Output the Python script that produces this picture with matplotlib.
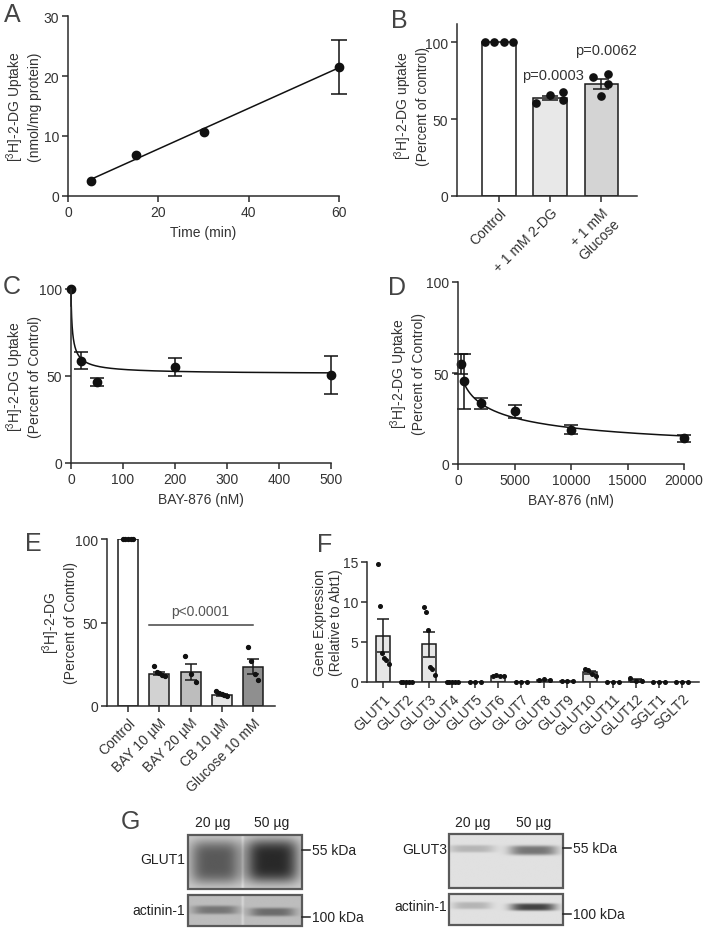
import numpy as np
import matplotlib.pyplot as plt
from matplotlib.patches import Rectangle

plt.rcParams['font.family'] = ['Liberation Sans', 'DejaVu Sans']
plt.rcParams['mathtext.fontset'] = 'custom'
plt.rcParams['mathtext.rm'] = 'Liberation Sans'
plt.rcParams['mathtext.it'] = 'Liberation Sans:italic'
plt.rcParams['mathtext.bf'] = 'Liberation Sans:bold'

# ---- data ----
# A: time course
time_min = [5, 15, 30, 60]
uptake_nmol = [2.5, 6.8, 10.7, 21.5]
uptake_sem = [0, 0, 0, 4.5]

# B: competition
b_groups = ['Control', '+ 1 mM 2-DG', '+ 1 mM\nGlucose']
b_means = [100, 63.8, 73.2]
b_sem = [0, 1.6, 3.2]
b_points = [[100, 100, 100, 100],
            [60.7, 65.9, 62.2, 67.5],
            [77.5, 79.7, 72.7, 64.8]]
b_pvals = ['', 'p=0.0003', 'p=0.0062']

# C: BAY-876 low range
c_dose = [0, 20, 50, 200, 500]
c_uptake = [100, 58.7, 46.5, 55.2, 50.4]
c_sem = [10, 4.9, 2.4, 5.3, 11]
c_fit = dict(top=100, bottom=51, ic50=3.0, hill=0.8)

# D: BAY-876 high range
d_dose = [250, 500, 2000, 5000, 10000, 20000]
d_uptake = [54.9, 45.4, 33.3, 28.9, 18.9, 14.1]
d_sem = [5.5, 15, 3, 3.4, 2.5, 2]
d_fit = dict(top=62, bottom=3, ic50=2200, hill=0.6)

# E: inhibitors
e_groups = ['Control', 'BAY 10 \u00b5M', 'BAY 20 \u00b5M', 'CB 10 \u00b5M', 'Glucose 10 mM']
e_means = [100, 19.4, 20.5, 6.7, 23.4]
e_sem = [0, 1.1, 4.8, 0.7, 4.5]
e_points = [[100, 100, 100, 100, 100],
            [24, 20.5, 19.5, 18.5, 18],
            [30, 19, 14.4],
            [9, 8, 7.2, 6.4, 6],
            [35.4, 27, 19, 15.6]]
e_colors = ['white', '#d2d2d2', '#bdbdbd', '#e6e6e6', '#8f8f8f']

# F: transporter expression
f_genes = ['GLUT1', 'GLUT2', 'GLUT3', 'GLUT4', 'GLUT5', 'GLUT6', 'GLUT7',
           'GLUT8', 'GLUT9', 'GLUT10', 'GLUT11', 'GLUT12', 'SGLT1', 'SGLT2']
f_means = [5.8, 0, 4.7, 0, 0, 0.8, 0, 0.3, 0.15, 1.2, 0.05, 0.2, 0, 0]
f_sem = [2.1, 0, 1.6, 0, 0, 0.05, 0, 0.03, 0.02, 0.2, 0.02, 0.15, 0, 0]
f_points = [[14.8, 9.5, 3.6, 3.0, 2.8, 2.2],
            [0, 0, 0, 0, 0],
            [9.4, 8.75, 6.5, 1.9, 1.6, 0.9],
            [0, 0, 0, 0, 0],
            [0, 0, 0],
            [0.8, 0.9, 0.8, 0.7],
            [0, 0, 0],
            [0.3, 0.35, 0.3],
            [0.15, 0.15, 0.15],
            [1.6, 1.5, 1.0, 0.8],
            [0.05, 0.05, 0.05],
            [0.5, 0.1, 0.1],
            [0, 0, 0],
            [0, 0, 0]]

# G: western blot lanes
g_lanes = ['20 \u00b5g', '50 \u00b5g']

# ---- layout ----
W, H = 708, 929
fig = plt.figure(figsize=(W / 100, H / 100), dpi=100)
TXT = '#333333'


def add_ax(left, top, right, bottom):
    return fig.add_axes([left / W, 1 - bottom / H, (right - left) / W, (bottom - top) / H])


def prism(ax):
    for s in ['top', 'right']:
        ax.spines[s].set_visible(False)
    for s in ['left', 'bottom']:
        ax.spines[s].set_linewidth(1.1)
        ax.spines[s].set_color('#2b2b2b')
    ax.tick_params(direction='out', length=4.5, width=1.1, color='#2b2b2b',
                   labelsize=10, labelcolor=TXT, pad=2)
    ax.patch.set_alpha(0)


def spread(n, half):
    if n == 1:
        return np.zeros(1)
    return np.linspace(-half, half, n)


def hill(x, p):
    x = np.asarray(x, float)
    return p['bottom'] + (p['top'] - p['bottom']) / (1 + (x / p['ic50']) ** p['hill'])


over = fig.add_axes([0, 0, 1, 1])
over.set_xlim(0, W)
over.set_ylim(H, 0)
over.axis('off')

for lab, x, y in [('A', 12, 15), ('B', 399, 21), ('C', 12, 287), ('D', 397, 288),
                  ('E', 33, 544), ('F', 325, 545), ('G', 130, 822)]:
    over.text(x, y, lab, fontsize=18, color='#444444', ha='center', va='center')

ylab_kw = dict(rotation=90, ha='center', va='center', fontsize=10, color=TXT,
               multialignment='center')
over.text(23, 107, '[$^3$H]-2-DG Uptake\n(nmol/mg protein)', **ylab_kw)
over.text(411, 106, '[$^3$H]-2-DG uptake\n(Percent of control)', **ylab_kw)
over.text(23, 377, '[$^3$H]-2-DG Uptake\n(Percent of Control)', **ylab_kw)
over.text(407, 374, '[$^3$H]-2-DG Uptake\n(Percent of Control)', **ylab_kw)
over.text(59, 623, '[$^3$H]-2-DG\n(Percent of Control)', **ylab_kw)
over.text(328, 623, 'Gene Expression\n(Relative to Abt1)', **ylab_kw)

# ---- A ----
axA = add_ax(68, 17, 339, 197)
prism(axA)
fit = np.polyfit(time_min, uptake_nmol, 1)
xs = np.array([time_min[0], time_min[-1]])
axA.plot(xs, np.polyval(fit, xs), color='#111111', lw=1.1)
axA.plot(time_min, uptake_nmol, 'o', ms=6, color='#111111', clip_on=False)
a_err = [i for i, s in enumerate(uptake_sem) if s > 0]
axA.errorbar(np.array(time_min)[a_err], np.array(uptake_nmol)[a_err],
             yerr=np.array(uptake_sem)[a_err], fmt='none', ecolor='#111111',
             capsize=6, elinewidth=1.1, capthick=1.1, clip_on=False)
axA.set_xlim(0, 60)
axA.set_ylim(0, 30)
axA.set_xticks([0, 20, 40, 60])
axA.set_yticks([0, 10, 20, 30])
axA.set_xlabel('Time (min)', fontsize=10, color=TXT, labelpad=4)

# ---- B ----
axB = add_ax(457, 25, 637, 197)
prism(axB)
bx = np.arange(len(b_groups))
axB.bar(bx, b_means, width=0.65, color=['white', '#e8e8e8', '#d4d4d4'],
        edgecolor='#1a1a1a', linewidth=1.1, zorder=1)
axB.errorbar(bx[1:], b_means[1:], yerr=b_sem[1:], fmt='none', ecolor='#1a1a1a',
             capsize=6, elinewidth=1.1, capthick=1.1, zorder=3)
b_jit = [[-0.27, -0.09, 0.09, 0.27], [-0.28, -0.01, 0.25, 0.25], [-0.16, 0.13, 0.13, 0.0]]
for i, pts in enumerate(b_points):
    axB.plot(bx[i] + np.array(b_jit[i]), pts, 'o', ms=5.2, color='#111111', zorder=4,
             clip_on=False)
b_ptxt = [(0, 0), (1.05, 79), (2.1, 95)]
for i, p in enumerate(b_pvals):
    if p:
        axB.text(b_ptxt[i][0], b_ptxt[i][1], p, ha='center', va='center',
                 fontsize=10.5, color=TXT)
axB.set_xlim(-0.82, 2.7)
axB.set_ylim(0, 112)
axB.set_yticks([0, 50, 100])
axB.set_xticks(bx)
axB.set_xticklabels(b_groups, rotation=45, ha='right', rotation_mode='anchor',
                    fontsize=10)

# ---- C ----
axC = add_ax(71, 290, 331, 464)
prism(axC)
cx = np.concatenate([[0], np.geomspace(0.05, 500, 400)])
axC.plot(cx, hill(cx, c_fit), color='#111111', lw=1.1)
axC.errorbar(c_dose[1:], c_uptake[1:], yerr=c_sem[1:], fmt='o', ms=6, color='#111111',
             capsize=5, elinewidth=1.1, capthick=1.1, clip_on=False)
axC.plot([c_dose[0]], [c_uptake[0]], 'o', ms=6, color='#111111', clip_on=False)
axC.plot([c_dose[0], c_dose[0]], [c_uptake[0] - c_sem[0], c_uptake[0]],
         color='#111111', lw=1.1, clip_on=False)
axC.set_xlim(0, 500)
axC.set_ylim(0, 100)
axC.set_xticks(range(0, 501, 100))
axC.set_yticks([0, 50, 100])
axC.set_xlabel('BAY-876 (nM)', fontsize=10, color=TXT, labelpad=4)

# ---- D ----
axD = add_ax(458, 283, 684, 465)
prism(axD)
dx = np.linspace(d_dose[1], d_dose[-1], 500)
axD.plot(dx, hill(dx, d_fit), color='#111111', lw=1.1)
axD.errorbar(d_dose, d_uptake, yerr=d_sem, fmt='o', ms=6, color='#111111',
             capsize=5, elinewidth=1.1, capthick=1.1, clip_on=False)
axD.set_xlim(0, 20000)
axD.set_ylim(0, 100)
axD.set_xticks(range(0, 20001, 5000))
axD.set_yticks([0, 50, 100])
axD.set_xlabel('BAY-876 (nM)', fontsize=10, color=TXT, labelpad=4)

# ---- E ----
axE = add_ax(107, 540, 275, 707)
prism(axE)
ex = np.arange(len(e_groups))
axE.bar(ex, e_means, width=0.64, color=e_colors, edgecolor='#1a1a1a',
        linewidth=1.1, zorder=1)
axE.errorbar(ex[1:], e_means[1:], yerr=e_sem[1:], fmt='none', ecolor='#1a1a1a',
             capsize=4, elinewidth=1.1, capthick=1.1, zorder=3)
for i, pts in enumerate(e_points):
    axE.plot(ex[i] + spread(len(pts), 0.17), pts, 'o', ms=2.8, color='#111111',
             zorder=4, clip_on=False)
axE.plot([0.68, 4.0], [48.5, 48.5], color='#444444', lw=1.1)
axE.text(2.3, 57, 'p<0.0001', ha='center', va='center', fontsize=10, color='#555555')
axE.set_xlim(-0.67, 4.7)
axE.set_ylim(0, 100)
axE.set_yticks([0, 50, 100])
axE.set_xticks(ex)
axE.set_xticklabels(e_groups, rotation=45, ha='right', rotation_mode='anchor',
                    fontsize=10)

# ---- F ----
axF = add_ax(367, 563, 699, 683)
prism(axF)
fx = np.arange(len(f_genes))
axF.bar(fx, f_means, width=0.62, color='#e6e6e6', edgecolor='#1a1a1a',
        linewidth=1.1, zorder=1)
has_err = [i for i, s in enumerate(f_sem) if s > 0.1]
axF.errorbar(fx[has_err], np.array(f_means)[has_err], yerr=np.array(f_sem)[has_err],
             fmt='none', ecolor='#1a1a1a', capsize=4, elinewidth=1.1, capthick=1.1,
             zorder=3)
for i, pts in enumerate(f_points):
    axF.plot(fx[i] + spread(len(pts), 0.24), pts, 'o', ms=2.6, color='#111111',
             zorder=4, clip_on=False)
axF.set_xlim(-0.7, 13.74)
axF.set_ylim(0, 15)
axF.set_yticks([0, 5, 10, 15])
axF.set_xticks(fx)
axF.set_xticklabels(f_genes, rotation=45, ha='right', rotation_mode='anchor',
                    fontsize=10)


# ---- G: blots ----
def blot(x0, y0, x1, y1, bg, bands, seam=None):
    ny, nx = 80, 160
    yy, xx = np.mgrid[0:1:ny * 1j, 0:1:nx * 1j]
    img = np.full((ny, nx), bg)
    for bcx, wx, bcy, wy, depth in bands:
        img = img - depth * np.exp(-((xx - bcx) / wx) ** 4) * np.exp(-((yy - bcy) / wy) ** 4)
    if seam is not None:
        img = img + 0.1 * np.exp(-((xx - seam) / 0.012) ** 2)
    over.imshow(np.clip(img, 0, 1), extent=(x0, x1, y1, y0), cmap='gray', vmin=0, vmax=1,
                aspect='auto', interpolation='bilinear', zorder=1)
    over.add_patch(Rectangle((x0, y0), x1 - x0, y1 - y0, fill=False, ec='#5a5a5a',
                             lw=1.6, zorder=2))


def kda(xr, y, label):
    over.plot([xr, xr + 8], [y, y], color='#222222', lw=1.1)
    over.text(xr + 10, y, label, ha='left', va='center', fontsize=10, color='#222222')


# left (GLUT1)
blot(188, 836, 302, 890, 0.8,
     [(0.24, 0.22, 0.5, 0.4, 0.45), (0.74, 0.23, 0.48, 0.4, 0.64)], seam=0.48)
blot(188, 896, 302, 927, 0.74,
     [(0.24, 0.2, 0.48, 0.14, 0.28), (0.74, 0.2, 0.55, 0.14, 0.32)], seam=0.48)
for lane, x in zip(g_lanes, [213, 272]):
    over.text(x, 823, lane, ha='center', va='center', fontsize=10, color='#222222')
over.text(185, 860, 'GLUT1', ha='right', va='center', fontsize=10, color='#222222')
over.text(185, 911, 'actinin-1', ha='right', va='center', fontsize=10, color='#222222')
kda(302, 851, '55 kDa')
kda(302, 918, '100 kDa')

# right (GLUT3)
blot(449, 835, 563, 889, 0.88,
     [(0.2, 0.2, 0.27, 0.07, 0.17), (0.74, 0.21, 0.3, 0.09, 0.42)])
blot(449, 895, 563, 926, 0.88,
     [(0.2, 0.17, 0.37, 0.12, 0.17), (0.74, 0.2, 0.42, 0.12, 0.62)])
for lane, x in zip(g_lanes, [473, 534]):
    over.text(x, 823, lane, ha='center', va='center', fontsize=10, color='#222222')
over.text(447, 850, 'GLUT3', ha='right', va='center', fontsize=10, color='#222222')
over.text(447, 907, 'actinin-1', ha='right', va='center', fontsize=10, color='#222222')
kda(563, 849, '55 kDa')
kda(563, 915, '100 kDa')

fig.savefig('out.png', dpi=100)
